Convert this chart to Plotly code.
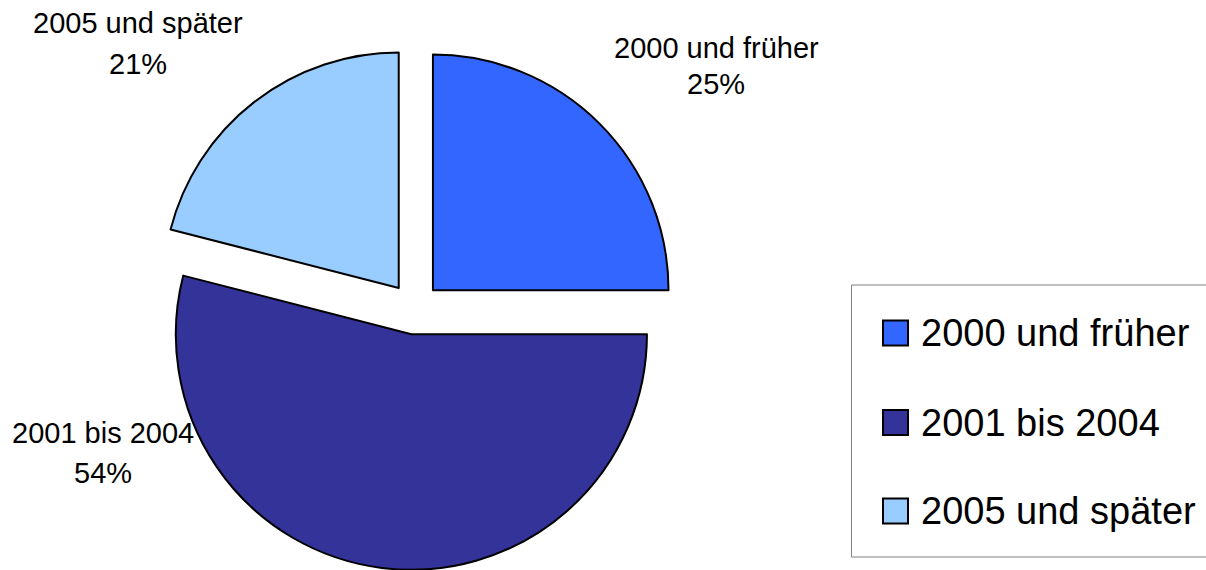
import plotly.graph_objects as go

labels = ["2000 und früher", "2001 bis 2004", "2005 und später"]
values = [25, 54, 21]
colors = ["#3366FF", "#333399", "#99CCFF"]

W, H = 1206, 570

fig = go.Figure()
fig.add_trace(go.Pie(
    labels=labels, values=values, sort=False, direction="clockwise", rotation=0,
    pull=[0.11, 0.11, 0.11],
    marker=dict(colors=colors, line=dict(color="#000000", width=2)),
    textinfo="none", hoverinfo="label+percent", showlegend=False,
    domain=dict(x=[0.0938, 0.5938], y=[0.0, 0.9175]),
))

def px(x):
    return x / W

def py(y):
    return 1 - y / H

font_lbl = dict(family="Liberation Sans, Arial, sans-serif", size=29, color="#000000")
font_leg = dict(family="Liberation Sans, Arial, sans-serif", size=38, color="#000000")

# data labels (name line and percent line)
label_pos = [(716, 47.5, 83.5), (103, 432.5, 472.5), (138, 22.5, 63.5)]
annotations = []
for lab, val, (cx, y1, y2) in zip(labels, values, label_pos):
    annotations.append(dict(x=px(cx), y=py(y1), xref="paper", yref="paper", text=lab,
                            showarrow=False, xanchor="center", yanchor="middle", font=font_lbl))
    annotations.append(dict(x=px(cx), y=py(y2), xref="paper", yref="paper", text=f"{val}%",
                            showarrow=False, xanchor="center", yanchor="middle", font=font_lbl))

# legend frame (open on the right, cut by the chart edge)
box_line = dict(color="#808080", width=1)
shapes = [
    dict(type="line", xref="paper", yref="paper", x0=px(851.5), x1=px(851.5), y0=py(557), y1=py(285), line=box_line),
    dict(type="line", xref="paper", yref="paper", x0=px(851.5), x1=1.0, y0=py(285), y1=py(285), line=box_line),
    dict(type="line", xref="paper", yref="paper", x0=px(851.5), x1=1.0, y0=py(557), y1=py(557), line=box_line),
]
leg_y = [333, 422.5, 511]
for lab, col, yc in zip(labels, colors, leg_y):
    shapes.append(dict(type="rect", xref="paper", yref="paper", x0=px(883), x1=px(908),
                       y0=py(yc + 12.5), y1=py(yc - 12.5), line=dict(color="#000000", width=2),
                       fillcolor=col))
    annotations.append(dict(x=px(919), y=py(yc), xref="paper", yref="paper", text=lab,
                            showarrow=False, xanchor="left", yanchor="middle", font=font_leg))

fig.update_layout(
    width=W, height=H, margin=dict(l=0, r=0, t=0, b=0),
    paper_bgcolor="#FFFFFF", plot_bgcolor="#FFFFFF",
    shapes=shapes, annotations=annotations,
)

fig.write_html("out.html", config={"displayModeBar": False},
               post_script="document.body.style.margin='0';")
